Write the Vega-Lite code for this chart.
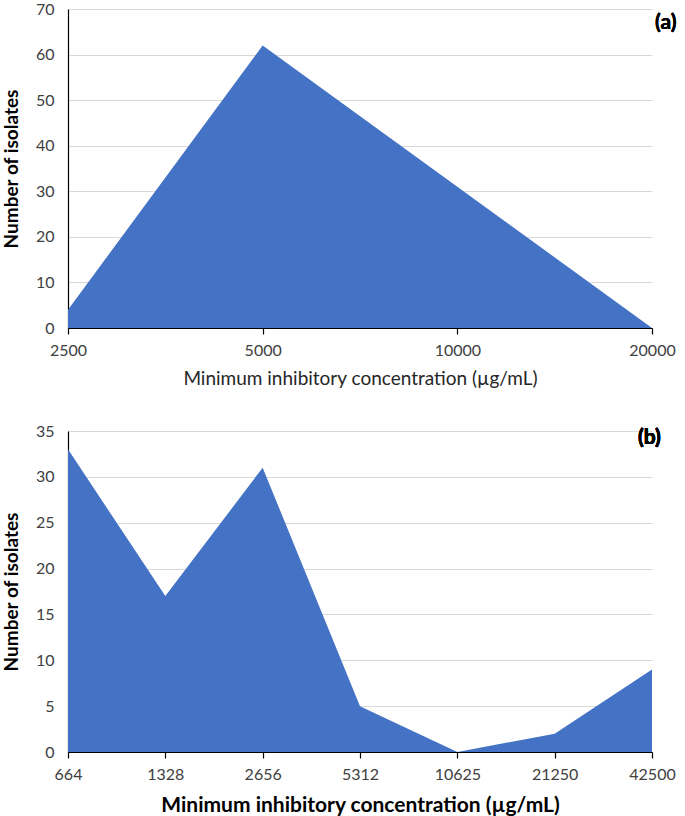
{
  "$schema": "https://vega.github.io/schema/vega-lite/v6.json",
  "padding": {"left": 2, "top": 1, "right": 0, "bottom": 2},
  "spacing": 35,
  "background": "white",
  "config": {
    "font": "Lato",
    "view": {"stroke": null},
    "axis": {
      "labelFont": "Lato",
      "titleFont": "Lato",
      "labelFontSize": 16,
      "labelColor": "#404040",
      "gridColor": "#d9d9d9",
      "gridWidth": 1.2
    }
  },
  "vconcat": [
    {
      "width": 584,
      "height": 319,
      "data": {"values": [
        {"mic": "2500", "n": 4},
        {"mic": "5000", "n": 62},
        {"mic": "10000", "n": 31},
        {"mic": "20000", "n": 0}
      ]},
      "layer": [
        {
          "mark": {"type": "area", "color": "#4472C4", "interpolate": "linear"},
          "encoding": {
            "x": {
              "field": "mic", "type": "ordinal", "sort": null,
              "scale": {"type": "point", "padding": 0},
              "axis": {
                "title": "Minimum inhibitory concentration (µg/mL)",
                "titleFontSize": 19, "titleFontWeight": "normal", "titleColor": "#262626",
                "titlePadding": 11,
                "labelAngle": 0, "labelPadding": 8,
                "domainColor": "#000000", "domainWidth": 1.2,
                "tickColor": "#000000", "tickSize": 6, "tickWidth": 1.2,
                "grid": false
              }
            },
            "y": {
              "field": "n", "type": "quantitative",
              "scale": {"domain": [0, 70]},
              "axis": {
                "title": "Number of isolates",
                "values": [0, 10, 20, 30, 40, 50, 60, 70],
                "titleFontSize": 19, "titleFontWeight": "bold", "titleColor": "#000000",
                "titlePadding": 14,
                "ticks": false, "labelPadding": 14,
                "domainColor": "#000000", "domainWidth": 1.2
              }
            }
          }
        },
        {
          "mark": {"type": "text", "text": "(a)", "font": "Lato", "fontSize": 21, "fontWeight": "bold", "align": "left", "baseline": "middle", "dx": 3, "color": "#000000"},
          "encoding": {
            "x": {"datum": "20000"},
            "y": {"datum": 66.9}
          }
        }
      ]
    },
    {
      "width": 584,
      "height": 321,
      "data": {"values": [
        {"mic": 664, "n": 33},
        {"mic": 1328, "n": 17},
        {"mic": 2656, "n": 31},
        {"mic": 5312, "n": 5},
        {"mic": 10625, "n": 0},
        {"mic": 21250, "n": 2},
        {"mic": 42500, "n": 9}
      ]},
      "layer": [
        {
          "mark": {"type": "area", "color": "#4472C4", "interpolate": "linear"},
          "encoding": {
            "x": {
              "field": "mic", "type": "quantitative",
              "scale": {"type": "log", "base": 2, "domain": [664, 42500], "nice": false},
              "axis": {
                "title": "Minimum inhibitory concentration (µg/mL)",
                "titleFontSize": 21, "titleFontWeight": "bold", "titleColor": "#000000",
                "titlePadding": 12,
                "values": [664, 939, 1328, 1878, 2656, 3756, 5312, 7512, 10625, 15026, 21250, 30052, 42500],
                "labelExpr": "indexof([664, 1328, 2656, 5312, 10625, 21250, 42500], datum.value) >= 0 ? '' + datum.value : ''",
                "labelFlush": false,
                "labelOverlap": false,
                "labelAngle": 0, "labelPadding": 8,
                "domainColor": "#000000", "domainWidth": 1.2,
                "tickColor": "#000000", "tickWidth": 1.2,
                "tickSize": {"condition": {"test": "indexof([664, 1328, 2656, 5312, 10625, 21250, 42500], datum.value) >= 0", "value": 6}, "value": -6},
                "grid": false
              }
            },
            "y": {
              "field": "n", "type": "quantitative",
              "scale": {"domain": [0, 35]},
              "axis": {
                "title": "Number of isolates",
                "values": [0, 5, 10, 15, 20, 25, 30, 35],
                "titleFontSize": 19, "titleFontWeight": "bold", "titleColor": "#000000",
                "titlePadding": 14,
                "ticks": false, "labelPadding": 14,
                "domainColor": "#000000", "domainWidth": 1.2
              }
            }
          }
        },
        {
          "mark": {"type": "text", "text": "(b)", "font": "Lato", "fontSize": 21, "fontWeight": "bold", "align": "left", "baseline": "middle", "dx": -14, "color": "#000000"},
          "encoding": {
            "x": {"datum": 42500},
            "y": {"datum": 34.2}
          }
        }
      ]
    }
  ]
}
